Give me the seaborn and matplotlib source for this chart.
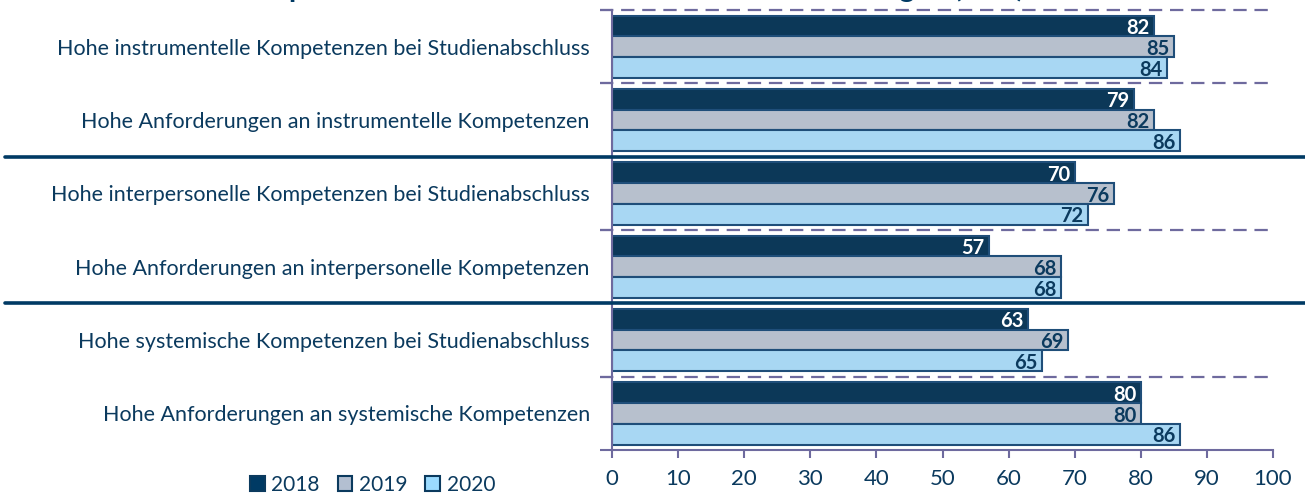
import pandas as pd
import numpy as np
import matplotlib.pyplot as plt
import seaborn as sns
from matplotlib.patches import Patch

# Data
categories = [
    'Hohe instrumentelle Kompetenzen bei Studienabschluss',
    'Hohe Anforderungen an instrumentelle Kompetenzen',
    'Hohe interpersonelle Kompetenzen bei Studienabschluss',
    'Hohe Anforderungen an interpersonelle Kompetenzen',
    'Hohe systemische Kompetenzen bei Studienabschluss',
    'Hohe Anforderungen an systemische Kompetenzen',
]
years = ['2018', '2019', '2020']
v2018 = [82, 79, 70, 57, 63, 80]
v2019 = [85, 82, 76, 68, 69, 80]
v2020 = [84, 86, 72, 68, 65, 86]
x_ticks = [0, 10, 20, 30, 40, 50, 60, 70, 80, 90, 100]
title = 'Kompetenzen bei Studienabschluss und Anforderungen (in %)'

# Long format for seaborn
df = pd.DataFrame({
    'Kategorie': categories * 3,
    'Jahr': [y for y in years for _ in categories],
    'Wert': v2018 + v2019 + v2020,
})

navy = '#003A64'
text_col = '#0B3A5E'
purple = '#6E6A9E'
palette = {'2018': navy, '2019': '#B3BFD1', '2020': '#9BDBFF'}
label_colors = {'2018': 'white', '2019': text_col, '2020': text_col}

sns.set_theme(style='white')
plt.rcParams['font.family'] = ['Lato', 'DejaVu Sans']

fig = plt.figure(figsize=(13.05, 4.97), dpi=100)
ax = fig.add_axes([612 / 1305, 1 - 450 / 497, 661 / 1305, 440 / 497])

sns.barplot(data=df, y='Kategorie', x='Wert', hue='Jahr', palette=palette,
            orient='h', width=0.85, ax=ax, edgecolor='#1F4E79', linewidth=1.5,
            legend=False)

ax.set_xlim(0, 100)
ax.set_ylim(5.5, -0.5)
ax.set_xlabel('')
ax.set_ylabel('')
ax.set_xticks(x_ticks)
ax.tick_params(axis='x', length=6, width=1.5, color=purple, pad=8,
               labelsize=16, labelcolor=text_col, direction='out', bottom=True)
ax.tick_params(axis='y', which='major', length=0, pad=16,
               labelsize=15.5, labelcolor=text_col)
ax.set_yticks(np.arange(-0.5, 6, 1.0), minor=True)
ax.tick_params(axis='y', which='minor', length=9, width=1.5, color=purple,
               direction='out', left=True)

for side in ['top', 'right']:
    ax.spines[side].set_visible(False)
for side in ['left', 'bottom']:
    ax.spines[side].set_color(purple)
    ax.spines[side].set_linewidth(1.5)

# dashed separators between categories
for yb in [-0.5, 0.5, 2.5, 4.5]:
    ax.axhline(yb, xmin=-0.018, xmax=0.995, color=purple, lw=1.6,
               ls=(0, (6, 3.5)), clip_on=False, zorder=0)
# solid separators between the three blocks
for yb in [1.5, 3.5]:
    ax.axhline(yb, xmin=-0.918, xmax=1.05, color=navy, lw=2.6,
               clip_on=False, zorder=5)

# value labels at the end of each bar
for cont, yr in zip(ax.containers, years):
    for patch in cont:
        w = patch.get_width()
        yc = patch.get_y() + patch.get_height() / 2
        ax.text(w - 0.7, yc + 0.03, f'{w:.0f}', ha='right', va='center',
                fontsize=14.5, fontweight='bold', color=label_colors[yr])

handles = [Patch(facecolor=palette[y], edgecolor=text_col, linewidth=1.5)
           for y in years]
fig.legend(handles, years, loc='center left',
           bbox_to_anchor=(250 / 1305, 1 - 485 / 497), ncol=3, frameon=False,
           borderpad=0, borderaxespad=0,
           handlelength=0.7, handleheight=0.7, handletextpad=0.33,
           columnspacing=0.85, fontsize=15, labelcolor=text_col)

# title is cut off at the top of the picture, only descenders visible
fig.text(0.48, 1 + 3 / 497, title, ha='center', va='baseline',
         fontsize=21, fontweight='bold', color=navy)

fig.savefig('out.png', dpi=100)
